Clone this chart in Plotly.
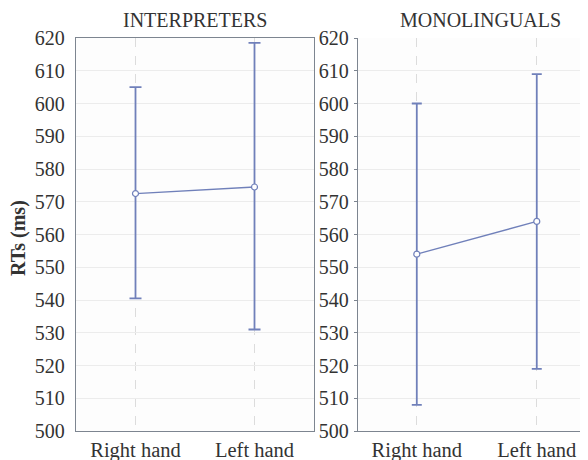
import plotly.graph_objects as go

categories = ["Right hand", "Left hand"]
interp_mean = [572.5, 574.5]
interp_upper = [605.0, 618.5]
interp_lower = [540.5, 531.0]
mono_mean = [554.0, 564.0]
mono_upper = [600.0, 609.0]
mono_lower = [508.0, 519.0]
y_ticks = [500, 510, 520, 530, 540, 550, 560, 570, 580, 590, 600, 610, 620]

LINE = "#7080ba"
AXIS = "#7d8590"
TXT = "#333333"
# page body adds an 8px offset, so the figure is drawn 8px smaller
W, H = 580, 452
T, B = 30, 29
PH = H - T - B

def trace(mean, up, lo, xa, ya, cap):
    return go.Scatter(
        x=categories, y=mean, xaxis=xa, yaxis=ya, mode="lines+markers",
        line=dict(color=LINE, width=1.3),
        marker=dict(symbol="circle", size=6, color="white", line=dict(color=LINE, width=1.2)),
        error_y=dict(type="data", symmetric=False,
                     array=[u - m for u, m in zip(up, mean)],
                     arrayminus=[m - l for m, l in zip(mean, lo)],
                     color=LINE, thickness=1.8, width=cap),
        showlegend=False,
    )

fig = go.Figure()
fig.add_trace(trace(interp_mean, interp_upper, interp_lower, "x", "y", 6))
fig.add_trace(trace(mono_mean, mono_upper, mono_lower, "x2", "y2", 5))

xcommon = dict(type="category", showgrid=True, gridcolor="#dcdcdc", griddash="dash",
               gridwidth=1, showline=True, linecolor=AXIS, linewidth=1.3,
               ticks="", zeroline=False, automargin=False, ticklabelstandoff=0)
ycommon = dict(range=[500, 620], tickvals=y_ticks, showgrid=True, gridcolor="#ececec",
               gridwidth=1.2, showline=True, linecolor=AXIS, linewidth=1.3,
               zeroline=False, automargin=False)

xfont = dict(family="Liberation Serif", size=20.5, color=TXT)
yfont = dict(family="Liberation Serif", size=20, color=TXT)
tfont = dict(family="Liberation Serif", size=20, color=TXT)

fig.update_layout(
    width=W, height=H,
    margin=dict(l=0, r=0, t=T, b=B, autoexpand=False),
    paper_bgcolor="white", plot_bgcolor="#fdfdfd",
    xaxis=dict(xcommon, domain=[68 / W, 306 / W], range=[-0.5, 1.5], anchor="y",
               mirror=True, tickfont=xfont),
    yaxis=dict(ycommon, domain=[0, 1], anchor="x", mirror=True, ticks="",
               ticklabelstandoff=6, tickfont=yfont),
    xaxis2=dict(xcommon, domain=[350 / W, 1], range=[-0.49, 1.427], anchor="y2",
                tickfont=xfont),
    yaxis2=dict(ycommon, domain=[0, 1], anchor="x2", mirror=False, ticks="outside",
                ticklen=3, tickcolor=AXIS, ticklabelstandoff=1, tickfont=yfont),
    annotations=[
        dict(text="INTERPRETERS", x=187 / W, y=1 + (T - 12) / PH, xref="paper", yref="paper",
             xanchor="center", yanchor="middle", showarrow=False, font=tfont),
        dict(text="MONOLINGUALS", x=472 / W, y=1 + (T - 12) / PH, xref="paper", yref="paper",
             xanchor="center", yanchor="middle", showarrow=False, font=tfont),
        dict(text="<b>RTs (ms)</b>", x=10 / W, y=(T + PH - 230) / PH, xref="paper",
             yref="paper", xanchor="center", yanchor="middle",
             textangle=-90, showarrow=False,
             font=dict(family="Liberation Serif", size=20, color=TXT)),
    ],
)

fig.write_html("out.html")
